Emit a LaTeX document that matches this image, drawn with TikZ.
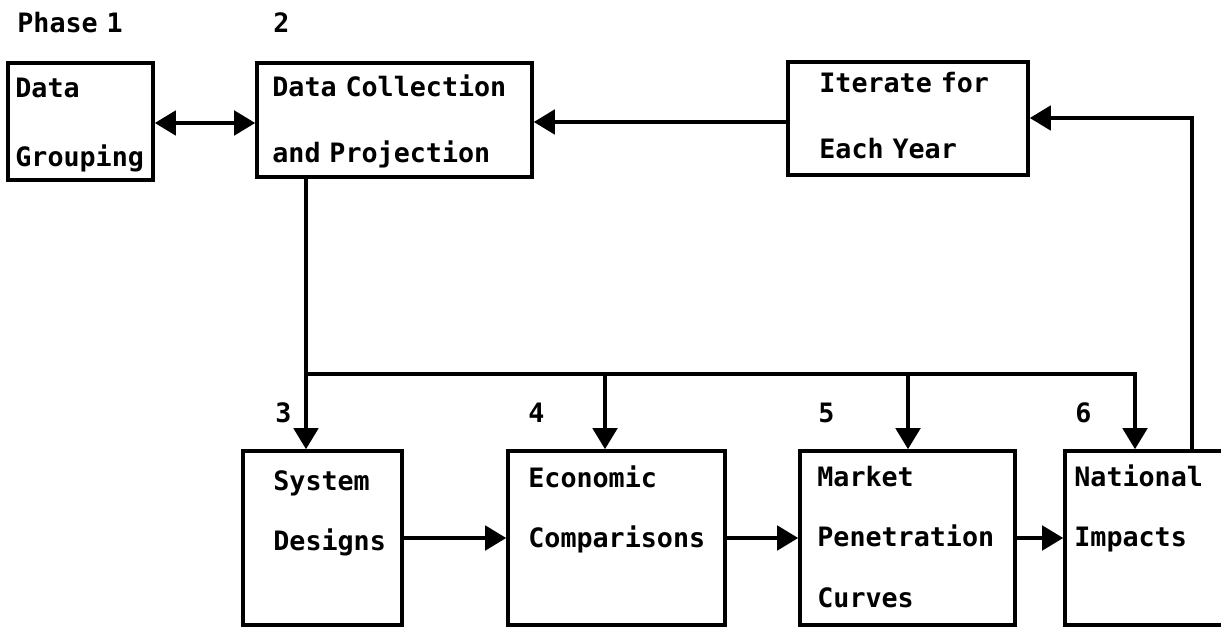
\documentclass[tikz,border=0pt]{standalone}
\usepackage{fontspec}
\setmonofont{DejaVu Sans Mono}
\usepackage{tikz}
\usetikzlibrary{
  arrows.meta,
  positioning
}
\tikzset{>={Triangle[length=12pt,width=14pt]}}
\tikzset{box/.style={draw, line width=2.1pt, inner sep=0pt},
  link/.style={line width=1.9pt},
  lbl/.style={inner sep=0pt, anchor=base west, text width=6cm, align=left,
    font=\ttfamily\bfseries\fontsize{15.2pt}{34.6pt}\selectfont}}

\begin{document}
\begin{tikzpicture}[x=0.02cm, y=-0.02cm]
  \useasboundingbox (0,0) rectangle (1221,628);
  % boxes
  \node[box, minimum width=2.90cm, minimum height=2.34cm] (grp) at (80.5,121.5) {};
  \node[box, minimum width=5.50cm, minimum height=2.28cm] (coll) at (394.5,120) {};
  \node[box, minimum width=4.80cm, minimum height=2.26cm] (iter) at (908,118.5) {};
  \node[box, minimum width=3.18cm, minimum height=3.48cm] (sys) at (322.5,538) {};
  \node[box, minimum width=4.34cm, minimum height=3.48cm] (eco) at (616.5,538) {};
  \node[box, minimum width=4.30cm, minimum height=3.48cm] (mkt) at (907.5,538) {};
  \node[box, minimum width=3.90cm, minimum height=3.48cm] (nat) at (1162.5,538) {};
  % texts
  \node[lbl] (ph1) at (17,33) {Phase 1};
  \node[lbl] (ph2) at (273,33) {2};
  \node[lbl] (grp-t) at (15,98) {Data\\[4.5pt]Grouping};
  \node[lbl] (coll-t) at (272,97) {Data Collection\\[2.4pt]and Projection};
  \node[lbl] (iter-t) at (819,93) {Iterate for\\[2.4pt]Each Year};
  \node[lbl] (n3) at (275,422) {3};
  \node[lbl] (n4) at (528,422) {4};
  \node[lbl] (n5) at (818,422) {5};
  \node[lbl] (n6) at (1075,422) {6};
  \node[lbl] (sys-t) at (273,490) {System\\Designs};
  \node[lbl] (eco-t) at (528,487) {Economic\\Comparisons};
  \node[lbl] (mkt-t) at (817,486) {Market\\Penetration\\Curves};
  \node[lbl] (nat-t) at (1074,486) {National\\Impacts};
  % junctions
  \coordinate (j3) at (306,374);
  \coordinate (j4) at (605,374);
  \coordinate (j5) at (908,374);
  \coordinate (j6) at (1135,374);
  \coordinate (fb) at (1192,118);
  % connectors
  \draw[link,<->] (grp.east |- 0,123) -- (coll.west |- 0,123);
  \draw[link,->] (iter.west |- 0,122) -- (coll.east |- 0,122);
  \draw[link,->] (coll.south -| j3) -- (sys.north -| j3);
  \draw[link,->] (j3) -- (j6) -- (nat.north -| j6);
  \foreach \j/\b in {j4/eco, j5/mkt}
    \draw[link,->] (\j) -- (\j |- \b.north);
  \draw[link,->] (sys) -- (eco);
  \draw[link,->] (eco) -- (mkt);
  \draw[link,->] (mkt) -- (nat);
  \draw[link,->] (nat.north -| fb) -- (fb) -- (fb -| iter.east);
\end{tikzpicture}
\end{document}
